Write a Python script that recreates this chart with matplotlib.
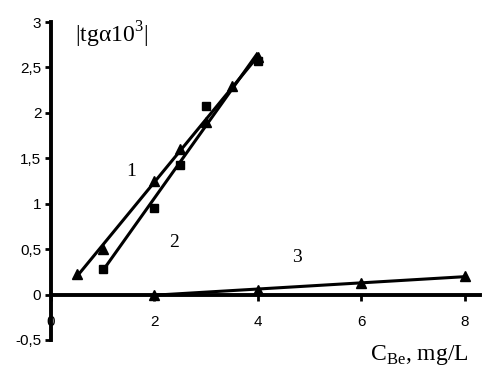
import numpy as np
import matplotlib
matplotlib.use("Agg")
import matplotlib.pyplot as plt

# Data
x1 = [0.5, 1.0, 2.0, 2.5, 3.0, 3.5, 4.0]
y1 = [0.23, 0.50, 1.25, 1.60, 1.90, 2.30, 2.62]
x2 = [1.0, 2.0, 2.5, 3.0, 4.0]
y2 = [0.28, 0.95, 1.43, 2.08, 2.57]
x3 = [2.0, 4.0, 6.0, 8.0]
y3 = [0.0, 0.05, 0.13, 0.20]

xticks = [0, 2, 4, 6, 8]
yticks = [-0.5, 0, 0.5, 1, 1.5, 2, 2.5, 3]
ytick_labels = ["-0,5", "0", "0,5", "1", "1,5", "2", "2,5", "3"]

fig = plt.figure(figsize=(4.93, 3.71), dpi=100)
ax = fig.add_axes([0.1034, 0.0836, 0.871, 0.857])

def fit_line(x, y):
    p = np.polyfit(x, y, 1)
    xs = np.array([min(x), max(x)])
    return xs, np.polyval(p, xs)

for x, y, m, ms in [(x1, y1, '^', 7), (x2, y2, 's', 6), (x3, y3, '^', 7)]:
    lx, ly = fit_line(x, y)
    ax.plot(lx, ly, color='black', lw=2.2, solid_capstyle='butt')
    ax.plot(x, y, linestyle='none', marker=m, color='black', markersize=ms)

ax.set_xlim(0, 8.3)
ax.set_ylim(-0.5, 3)

ax.spines['top'].set_visible(False)
ax.spines['right'].set_visible(False)
ax.spines['bottom'].set_position(('data', 0))
ax.spines['left'].set_linewidth(2.8)
ax.spines['bottom'].set_linewidth(2.8)

ax.set_xticks(xticks)
ax.set_xticklabels([str(t) for t in xticks], fontfamily='Liberation Sans', fontsize=11)
ax.set_yticks(yticks)
ax.set_yticklabels(ytick_labels, fontfamily='Liberation Sans', fontsize=11)
ax.tick_params(axis='x', direction='out', length=4, width=2, pad=11)
ax.tick_params(axis='y', direction='out', length=4, width=2, pad=3)

serif = 'Liberation Serif'
ax.text(1.55, 1.36, "1", fontfamily=serif, fontsize=14, ha='center', va='center')
ax.text(2.38, 0.57, "2", fontfamily=serif, fontsize=14, ha='center', va='center')
ax.text(4.75, 0.41, "3", fontfamily=serif, fontsize=14, ha='center', va='center')
ax.text(0.47, 2.86, "|tg\u03b110$^{\\mathregular{3}}$|", fontfamily=serif, fontsize=17,
        ha='left', va='center')
ax.text(7.12, -0.67, "C$_{\\mathregular{Be}}$, mg/L", fontfamily=serif, fontsize=17,
        ha='center', va='center', clip_on=False)

fig.savefig("out.png", dpi=100)
